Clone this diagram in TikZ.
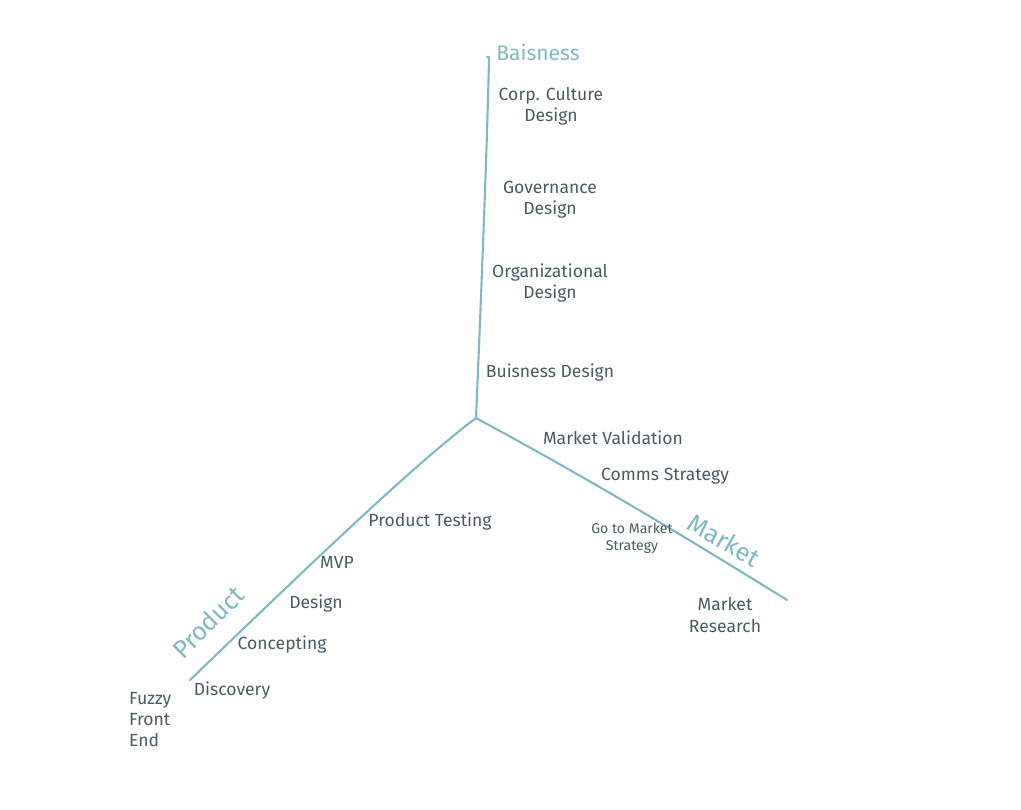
\documentclass[tikz,border=0pt]{standalone}
\usepackage{fontspec}
\setmainfont{Fira Sans}
\usepackage{xcolor}
\definecolor{axisteal}{RGB}{128,184,196}
\definecolor{inkgray}{RGB}{72,92,98}
\usetikzlibrary{positioning,calc}

\begin{document}
\begin{tikzpicture}[x=0.02cm, y=-0.02cm,
        axis/.style={draw=axisteal, line width=1.2pt, line cap=round},
        stage/.style={font=\normalsize, text=inkgray, align=center, inner sep=1pt},
        small/.style={font=\footnotesize, text=inkgray, align=center, inner sep=1pt},
        axlbl/.style={font=\large, text=axisteal, inner sep=0pt}
      ]
        \useasboundingbox (0,0) rectangle (1021,809);

        % Hub and axis ends
        \coordinate (hub) at (476,418);
        \coordinate (bizend) at (489,60);
        \coordinate (prodend) at (190,680);
        \coordinate (mktend) at (787,600);

        % Business axis
        \draw[axis] (hub) .. controls (481,300) and (487,150) .. (bizend)
          .. controls (489,57) .. (487,57);
        \node[axlbl] (biz) at (538,52) {Baisness};
        \node[stage] (culture) at (551,106) {Corp. Culture\\Design};
        \node[stage] (gov) at (550,200) {Governance\\Design};
        \node[stage] (org) at (550,283) {Organizational\\Design};
        \node[stage] (bizdes) at (550,373) {Buisness Design};

        % Product axis
        \draw[axis] (hub) .. controls (420,460) and (330,545) .. (prodend);
        \node[axlbl, font=\Large, rotate=45] (prod) at (208,622) {Product};
        \node[stage] (ptest) at (430,522) {Product Testing};
        \node[stage] (mvp) at (337,562) {MVP};
        \node[stage] (des) at (316,604) {Design};
        \node[stage] (concept) at (282,645) {Concepting};
        \node[stage] (disc) at (232,691) {Discovery};
        \node[stage, align=left, anchor=north west] (fuzzy) at (127,690) {Fuzzy\\Front\\End};

        % Market axis
        \draw[axis] (hub) .. controls (600,485) and (690,540) .. (mktend);
        \node[axlbl, font=\Large, rotate=-30] (mkt) at (724,540) {Market};
        \node[stage] (mval) at (613,438) {Market Validation};
        \node[stage] (comms) at (665,476) {Comms Strategy};
        \node[small] (gtm) at (632,538) {Go to Market\\Strategy};
        \node[stage] (mres) at (725,615) {Market\\Research};
      \end{tikzpicture}
\end{document}
